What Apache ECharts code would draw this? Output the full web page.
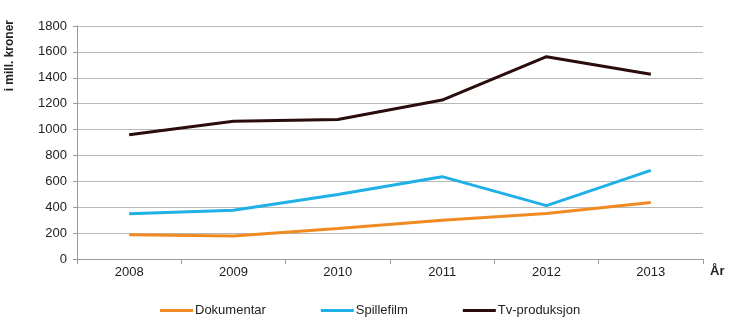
<!DOCTYPE html>
<html><head><meta charset="utf-8">
<script src="https://cdn.jsdelivr.net/npm/echarts@6/dist/echarts.min.js"></script>
<style>html,body{margin:0;padding:0;background:#fff}#c{width:730px;height:334px}</style>
</head><body><div id="c"></div>
<script>
const categories = ['2008','2009','2010','2011','2012','2013'];
const dokumentar = [187, 177, 235, 300, 352, 437];
const spillefilm = [350, 376, 498, 636, 412, 685];
const tvproduksjon = [960, 1065, 1078, 1228, 1563, 1427];
const yTicks = [0, 200, 400, 600, 800, 1000, 1200, 1400, 1600, 1800];

const font = 'Liberation Sans, Arial, sans-serif';
const chart = echarts.init(document.getElementById('c'));
chart.setOption({
  animation: false,
  backgroundColor: '#fff',
  grid: { left: 77, right: 27, top: 26, bottom: 75 },
  xAxis: {
    type: 'category', data: categories, boundaryGap: true,
    axisLine: { lineStyle: { color: '#9a9a9a', width: 1 } },
    axisTick: { show: true, length: 5, lineStyle: { color: '#9a9a9a' } },
    axisLabel: { color: '#222', fontFamily: font, fontSize: 13, margin: 7 }
  },
  yAxis: {
    type: 'value', min: yTicks[0], max: yTicks[yTicks.length-1], interval: 200,
    axisLine: { show: true, lineStyle: { color: '#9a9a9a', width: 1 } },
    axisTick: { show: true, length: 4, lineStyle: { color: '#9a9a9a' } },
    axisLabel: { color: '#222', fontFamily: font, fontSize: 13, margin: 10,
      formatter: v => String(v) },
    splitLine: { lineStyle: { color: '#b8b8b8', width: 1 } }
  },
  legend: {
    left: 160, top: 304, padding: 0, itemWidth: 33, itemHeight: 3, itemGap: 55,
    icon: 'rect',
    textStyle: { color: '#222', fontFamily: font, fontSize: 13, padding: [0,0,0,-3] },
    data: ['Dokumentar', 'Spillefilm', 'Tv-produksjon']
  },
  graphic: [
    { type: 'text', left: 4, top: 20, rotation: Math.PI/2,
      style: { text: 'i mill. kroner', font: 'bold 12px ' + font, fill: '#222' } },
    { type: 'text', left: 710, top: 265,
      style: { text: 'År', font: 'bold 13px ' + font, fill: '#222' } }
  ],
  series: [
    { name: 'Dokumentar', type: 'line', data: dokumentar, showSymbol: false,
      itemStyle: { color: '#ef8b22' }, lineStyle: { color: '#ef8b22', width: 3 } },
    { name: 'Spillefilm', type: 'line', data: spillefilm, showSymbol: false,
      itemStyle: { color: '#1eb0e6' }, lineStyle: { color: '#1eb0e6', width: 3 } },
    { name: 'Tv-produksjon', type: 'line', data: tvproduksjon, showSymbol: false,
      itemStyle: { color: '#2a0c0c' }, lineStyle: { color: '#2a0c0c', width: 3 } }
  ]
});
</script></body></html>
